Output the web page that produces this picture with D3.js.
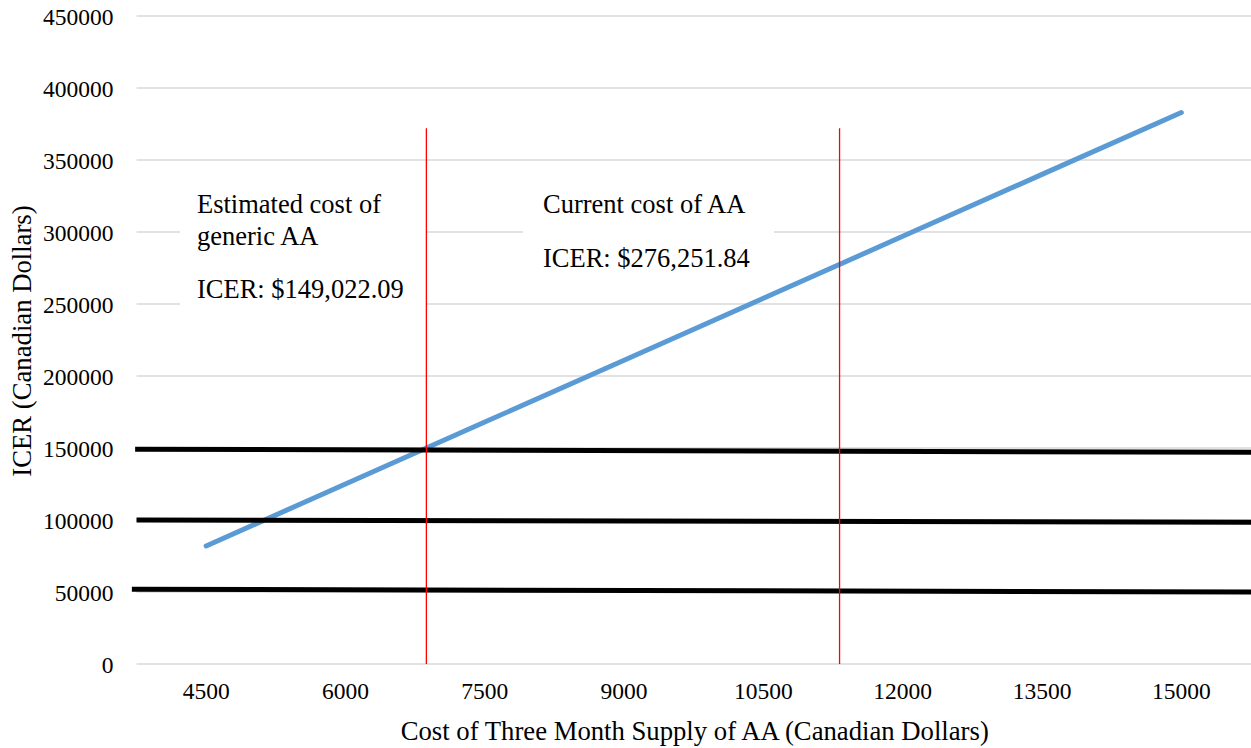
<!DOCTYPE html>
<html lang="en">
  <head>
    <script src="https://d3js.org/d3.v7.min.js"></script>
    <meta charset="utf-8">
    <style>
      body { margin: 0; background: #fff; }
      svg text { font-family: "Liberation Serif", "Times New Roman", serif; fill: #000; }
      .grid line { stroke: #d9d9d9; stroke-width: 1.5; }
    </style>
    <title></title>
  </head>
  <body>
    <svg id="chart" width="1251" height="748"></svg>
  </body>
</html>

<script>
    // categories on the x axis (cost of three month supply)
    const costs = [4500, 6000, 7500, 9000, 10500, 12000, 13500, 15000];
    // ICER
    const icer = [82000, 125000, 168000, 211000, 254000, 297000, 340000, 383000];
    const yTicks = [0, 50000, 100000, 150000, 200000, 250000, 300000, 350000, 400000, 450000];

    // willingness-to-pay threshold lines (drawn by hand, slightly tilted)
    const thresholds = [
        { x0: 3735, v0: 149100, x1: 15750, v1: 147000 },
        { x0: 3750, v0: 100000, x1: 15750, v1: 98400 },
        { x0: 3700, v0: 51900,  x1: 15750, v1: 50000 }
    ];
    // red markers for generic and current cost
    const markers = [6871, 11320];
    const markerTop = 372000;

    const notes = [
        { x: 180, y: 185, w: 246, h: 130, tx: 197, lines: [["Estimated cost of", 213], ["generic AA", 245], ["ICER: $149,022.09", 298]] },
        { x: 523, y: 185, w: 251, h: 100, tx: 543, lines: [["Current cost of AA", 213], ["ICER: $276,251.84", 267]] }
    ];

    const plotLeft = 136.5, plotRight = 1251, plotTop = 16, plotBottom = 664;
    const svg = d3.select("#chart");

    const x = d3.scaleBand().domain(costs).range([plotLeft, plotRight]);
    // continuous version of the same axis, for the drawn shapes
    const xc = d3.scaleLinear()
        .domain([costs[0] - 750, costs[costs.length - 1] + 750])
        .range([plotLeft, plotRight]);
    const y = d3.scaleLinear().domain([0, 450000]).range([plotBottom, plotTop]);

    // gridlines
    svg.append("g")
        .attr("class", "grid")
        .selectAll("line")
        .data(yTicks)
        .enter().append("line")
        .attr("x1", plotLeft)
        .attr("x2", plotRight)
        .attr("y1", d => y(d))
        .attr("y2", d => y(d));

    // y axis labels
    const yAxis = svg.append("g")
        .attr("transform", `translate(${plotLeft - 23},0)`)
        .call(d3.axisLeft(y).tickValues(yTicks).tickSize(0).tickPadding(0).tickFormat(d3.format("d")));
    yAxis.select(".domain").remove();
    yAxis.selectAll("text")
        .attr("font-size", "23.5px")
        .attr("dy", "0.34em");

    // x axis labels
    const xAxis = svg.append("g")
        .attr("transform", `translate(0,${plotBottom})`)
        .call(d3.axisBottom(x).tickSize(0).tickPadding(0));
    xAxis.select(".domain").remove();
    xAxis.selectAll("text")
        .attr("font-size", "23.5px")
        .attr("dy", null)
        .attr("y", 35);

    // blue ICER line
    const line = d3.line()
        .x((d, i) => x(costs[i]) + x.bandwidth() / 2)
        .y(d => y(d));
    svg.append("path")
        .datum(icer)
        .attr("fill", "none")
        .attr("stroke", "#5b9bd5")
        .attr("stroke-width", 5)
        .attr("stroke-linecap", "round")
        .attr("d", line);

    // text boxes
    const note = svg.append("g")
        .selectAll("g")
        .data(notes)
        .enter().append("g");
    note.append("rect")
        .attr("x", d => d.x)
        .attr("y", d => d.y)
        .attr("width", d => d.w)
        .attr("height", d => d.h)
        .attr("fill", "#fff");
    note.each(function(d) {
        d3.select(this).selectAll("text")
            .data(d.lines)
            .enter().append("text")
            .attr("x", d.tx)
            .attr("y", l => l[1])
            .attr("font-size", "26.5px")
            .text(l => l[0]);
    });

    // threshold lines
    svg.append("g")
        .selectAll("line")
        .data(thresholds)
        .enter().append("line")
        .attr("x1", d => xc(d.x0))
        .attr("y1", d => y(d.v0))
        .attr("x2", d => xc(d.x1))
        .attr("y2", d => y(d.v1))
        .attr("stroke", "#000")
        .attr("stroke-width", 5);

    // red vertical markers
    svg.append("g")
        .selectAll("line")
        .data(markers)
        .enter().append("line")
        .attr("x1", d => xc(d))
        .attr("x2", d => xc(d))
        .attr("y1", y(markerTop))
        .attr("y2", y(0))
        .attr("stroke", "#ff0000")
        .attr("stroke-width", 1.3);

    // axis titles
    svg.append("text")
        .attr("x", (plotLeft + plotRight) / 2 + 1)
        .attr("y", 740)
        .attr("text-anchor", "middle")
        .attr("font-size", "26.7px")
        .text("Cost of Three Month Supply of AA (Canadian Dollars)");

    svg.append("text")
        .attr("transform", `translate(31,${(plotTop + plotBottom) / 2 + 1}) rotate(-90)`)
        .attr("text-anchor", "middle")
        .attr("font-size", "26.7px")
        .text("ICER (Canadian Dollars)");
</script>
